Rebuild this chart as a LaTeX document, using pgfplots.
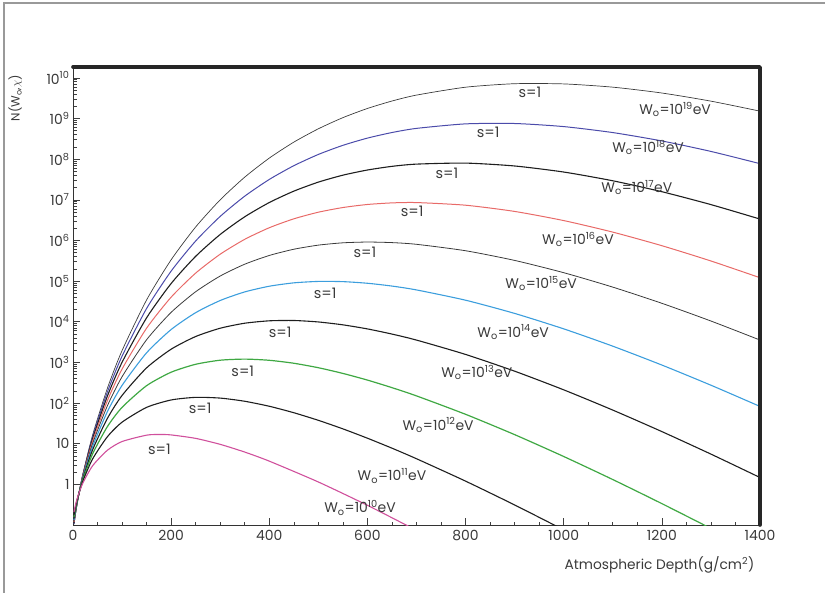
\documentclass[border=0pt]{standalone}
\usepackage{fontspec}
\setmainfont{Poppins}
\usepackage{pgfplots}
\pgfplotsset{compat=1.18}
\usepackage{pgfplotstable}
\definecolor{c19}{HTML}{3C3C3C}
\definecolor{c18}{HTML}{4B4BAA}
\definecolor{c17}{HTML}{1E1E1E}
\definecolor{c16}{HTML}{E86A68}
\definecolor{c15}{HTML}{3A3A3A}
\definecolor{c14}{HTML}{3C9EDD}
\definecolor{c13}{HTML}{1E1E1E}
\definecolor{c12}{HTML}{3FA843}
\definecolor{c11}{HTML}{1E1E1E}
\definecolor{c10}{HTML}{D0509C}
\definecolor{txt}{HTML}{3A3A3A}
\tikzset{lab/.style={font=\fontsize{14}{16}\selectfont, text=txt, inner sep=0pt},
         slab/.style={font=\fontsize{14.5}{16}\selectfont, text=txt, inner sep=0pt}}

% log10 N(W0, X) read for each primary energy W0 = 10^n eV
\pgfplotstableread{
X    L13    L14    L15    L16    L17    L18    L19
2   -0.844 -0.877 -0.904 -0.928 -0.950 -0.969 -0.986
5   -0.626 -0.650 -0.669 -0.687 -0.702 -0.715 -0.727
10  -0.331 -0.339 -0.346 -0.351 -0.356 -0.360 -0.364
20   0.140  0.163  0.182  0.200  0.215  0.228  0.241
40   0.850  0.932  1.003  1.064  1.119  1.168  1.213
70   1.620  1.787  1.930  2.056  2.168  2.269  2.361
100  2.188  2.435  2.648  2.836  3.003  3.153  3.291
150  2.866  3.237  3.558  3.842  4.097  4.327  4.537
200  3.325  3.809  4.231  4.605  4.941  5.246  5.525
250  3.637  4.224  4.739  5.197  5.610  5.987  6.332
300  3.841  4.523  5.125  5.662  6.148  6.592  7.000
350  3.964  4.734  5.416  6.028  6.583  7.090  7.558
400  4.023  4.874  5.631  6.313  6.933  7.501  8.026
450  4.031  4.957  5.784  6.532  7.213  7.839  8.419
500  3.995  4.992  5.885  6.695  7.435  8.116  8.747
550  3.924  4.987  5.942  6.810  7.606  8.340  9.021
600  3.824  4.947  5.961  6.885  7.733  8.518  9.247
650  3.697  4.878  5.947  6.924  7.823  8.655  9.430
700  3.549  4.783  5.905  6.932  7.878  8.757  9.576
800  3.196  4.530  5.747  6.867  7.903  8.868  9.770
900  2.784  4.205  5.509  6.714  7.832  8.877  9.856
1000 2.325  3.825  5.207  6.489  7.683  8.801  9.851
1100 1.827  3.399  4.852  6.205  7.468  8.654  9.771
1200 1.298  2.935  4.454  5.871  7.199  8.448  9.627
1300 0.744  2.439  4.018  5.495  6.882  8.190  9.427
1400 0.168  1.917  3.550  5.083  6.526  7.889  9.181
}\tabhigh
\pgfplotstableread{
X    L
2   -0.804
5   -0.598
10  -0.322
20   0.112
40   0.751
70   1.419
100  1.894
150  2.428
200  2.759
250  2.954
300  3.054
350  3.081
400  3.052
450  2.979
500  2.869
550  2.729
600  2.565
650  2.379
700  2.176
800  1.723
900  1.223
1000 0.685
1100 0.118
1200 -0.474
1300 -1.085
}\tabtwelve
\pgfplotstableread{
X    L
2   -0.753
5   -0.561
10  -0.309
20   0.077
40   0.626
70   1.170
100  1.530
150  1.894
200  2.076
250  2.140
300  2.122
350  2.044
400  1.921
450  1.762
500  1.575
550  1.365
600  1.135
650  0.890
700  0.630
800  0.079
900 -0.507
1000 -1.120
}\tabeleven
\pgfplotstableread{
X    L
2   -0.681
5   -0.510
10  -0.292
20   0.030
40   0.458
70   0.838
100  1.054
150  1.210
177  1.227
200  1.216
250  1.131
300  0.984
350  0.794
400  0.571
500  0.058
600 -0.516
700 -1.132
}\tabten

\begin{document}
\begin{tikzpicture}
\useasboundingbox (-73bp,-68bp) rectangle (752bp,525bp);
\draw[black!40, line width=1.2bp] (-69bp,-68bp) -- (-69bp,522bp) -- (752bp,522bp);
\begin{axis}[
  name=ax, at={(0,0)}, anchor=south west,
  scale only axis, width=687bp, height=458bp,
  xmin=0, xmax=1400, ymode=log, ymin=0.1, ymax=1.85e10,
  axis line style={black!80, line width=0.8bp},
  xtick={0,200,...,1400},
  xticklabels={0,200,400,600,800,1000,1200,1400},
  minor x tick num=3,
  ytickten={0,...,10},
  yticklabels={1,10,10\textsuperscript{2},10\textsuperscript{3},10\textsuperscript{4},10\textsuperscript{5},10\textsuperscript{6},10\textsuperscript{7},10\textsuperscript{8},10\textsuperscript{9},10\textsuperscript{10}},
  xtick pos=bottom, ytick pos=left,
  tick align=inside,
  major tick length=7bp, minor tick length=3.5bp,
  every tick/.style={black!75, line width=0.6bp},
  tick label style={font=\fontsize{14}{16}\selectfont, text=txt},
  xticklabel style={yshift=-2bp},
  every axis x label/.style={at={(rel axis cs:0.997,-0.087)}, anchor=east, font=\fontsize{13.8}{15}\selectfont, text=txt},
  every axis y label/.style={at={(rel axis cs:-0.084,0.932)}, rotate=90, anchor=center, font=\fontsize{12}{13}\selectfont, text=txt},
  xlabel={Atmospheric Depth(g/cm\textsuperscript{2})},
  ylabel={N(W\textsubscript{o},$\chi$)},
  every axis plot/.append style={smooth, tension=0.4, line join=round},
]
\addplot[c19, line width=0.7bp] table[x=X, y expr={10^(\thisrow{L19})}] {\tabhigh};
\addplot[c18, line width=1.0bp] table[x=X, y expr={10^(\thisrow{L18})}] {\tabhigh};
\addplot[c17, line width=1.1bp] table[x=X, y expr={10^(\thisrow{L17})}] {\tabhigh};
\addplot[c16, line width=1.0bp] table[x=X, y expr={10^(\thisrow{L16})}] {\tabhigh};
\addplot[c15, line width=0.8bp] table[x=X, y expr={10^(\thisrow{L15})}] {\tabhigh};
\addplot[c14, line width=1.1bp] table[x=X, y expr={10^(\thisrow{L14})}] {\tabhigh};
\addplot[c13, line width=1.1bp] table[x=X, y expr={10^(\thisrow{L13})}] {\tabhigh};
\addplot[c12, line width=1.2bp] table[x=X, y expr={10^(\thisrow{L})}] {\tabtwelve};
\addplot[c11, line width=1.1bp] table[x=X, y expr={10^(\thisrow{L})}] {\tabeleven};
\addplot[c10, line width=1.1bp] table[x=X, y expr={10^(\thisrow{L})}] {\tabten};

\node[slab] at (axis cs:931,4.37e9) {s=1};
\node[slab] at (axis cs:846,4.57e8) {s=1};
\node[slab] at (axis cs:762,4.47e7) {s=1};
\node[slab] at (axis cs:691,5.13e6) {s=1};
\node[slab] at (axis cs:595,5.0e5) {s=1};
\node[slab] at (axis cs:514,5.13e4) {s=1};
\node[slab] at (axis cs:422,5.62e3) {s=1};
\node[slab] at (axis cs:346,589) {s=1};
\node[slab] at (axis cs:259,72.4) {s=1};
\node[slab] at (axis cs:176,7.08) {s=1};

\node[lab] at (axis cs:1227,1.66e9) {W\textsubscript{o}=10\textsuperscript{19}eV};
\node[lab] at (axis cs:1172,1.95e8) {W\textsubscript{o}=10\textsuperscript{18}eV};
\node[lab] at (axis cs:1149,2.0e7) {W\textsubscript{o}=10\textsuperscript{17}eV};
\node[lab] at (axis cs:1029,1.05e6) {W\textsubscript{o}=10\textsuperscript{16}eV};
\node[lab] at (axis cs:954,8.7e4) {W\textsubscript{o}=10\textsuperscript{15}eV};
\node[lab] at (axis cs:897,5.6e3) {W\textsubscript{o}=10\textsuperscript{14}eV};
\node[lab] at (axis cs:823,562) {W\textsubscript{o}=10\textsuperscript{13}eV};
\node[lab] at (axis cs:744,28.8) {W\textsubscript{o}=10\textsuperscript{12}eV};
\node[lab] at (axis cs:650,1.62) {W\textsubscript{o}=10\textsuperscript{11}eV};
\node[lab] at (axis cs:585,0.263) {W\textsubscript{o}=10\textsuperscript{10}eV};
\end{axis}
\draw[black!85, line width=3.6bp, line cap=round, line join=round] (ax.north west) -- (ax.north east) -- (ax.south east);
\end{tikzpicture}
\end{document}
